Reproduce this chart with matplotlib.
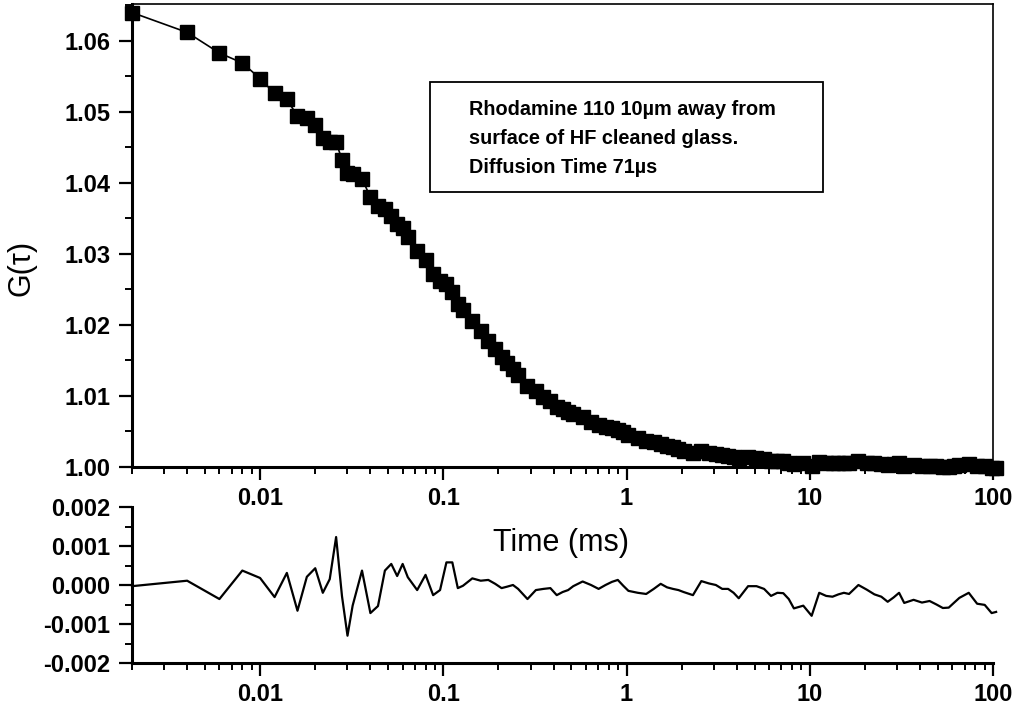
"""
FCS autocorrelation of Rhodamine 110 with fit residuals.
Top panel: G(tau) data on a log time axis; bottom panel: residuals.
Output: out.png
"""

import matplotlib
matplotlib.use("Agg")
import matplotlib.pyplot as plt
from matplotlib.patches import Rectangle
from matplotlib.ticker import FixedLocator, LogLocator, NullFormatter, MultipleLocator

plt.rcParams["font.family"] = ["Liberation Sans", "DejaVu Sans"]

# ── DATA ──────────────────────────────────────────────────────
# lag times in ms (multi-tau correlator channels)
times = [
    0.002, 0.004, 0.006, 0.008, 0.010, 0.012, 0.014, 0.016,
    0.018, 0.020, 0.022, 0.024, 0.026, 0.028, 0.030, 0.032,
    0.036, 0.040, 0.044, 0.048, 0.052, 0.056, 0.060, 0.064,
    0.072, 0.080, 0.088, 0.096, 0.104, 0.112, 0.120, 0.128,
    0.144, 0.160, 0.176, 0.192, 0.208, 0.224, 0.240, 0.256,
    0.288, 0.320, 0.352, 0.384, 0.416, 0.448, 0.480, 0.512,
    0.576, 0.640, 0.704, 0.768, 0.832, 0.896, 0.960, 1.024,
    1.152, 1.280, 1.408, 1.536, 1.664, 1.792, 1.920, 2.048,
    2.304, 2.560, 2.816, 3.072, 3.328, 3.584, 3.840, 4.096,
    4.608, 5.120, 5.632, 6.144, 6.656, 7.168, 7.680, 8.192,
    9.216, 10.24, 11.26, 12.29, 13.31, 14.34, 15.36, 16.38,
    18.43, 20.48, 22.53, 24.58, 26.62, 28.67, 30.72, 32.77,
    36.86, 40.96, 45.06, 49.15, 53.25, 57.34, 61.44, 65.54,
    73.73, 81.92, 90.11, 98.30, 104.0,
]

# measured autocorrelation G(tau)
g_tau = [
    1.0640, 1.0612, 1.0583, 1.0569, 1.0547, 1.0526, 1.0518, 1.0494,
    1.0491, 1.0482, 1.0464, 1.0457, 1.0457, 1.0433, 1.0414, 1.0413,
    1.0406, 1.0380, 1.0368, 1.0364, 1.0354, 1.0342, 1.0336, 1.0324,
    1.0304, 1.0292, 1.0272, 1.0262, 1.0257, 1.0246, 1.0229, 1.0221,
    1.0206, 1.0191, 1.0178, 1.0166, 1.0155, 1.0147, 1.0138, 1.0129,
    1.0114, 1.0107, 1.0099, 1.0093, 1.0085, 1.0081, 1.0078, 1.0075,
    1.0070, 1.0064, 1.0059, 1.0057, 1.0055, 1.0052, 1.0049, 1.0045,
    1.0041, 1.0037, 1.0035, 1.0033, 1.0030, 1.0028, 1.0026, 1.0023,
    1.0020, 1.0022, 1.0020, 1.0019, 1.0017, 1.0016, 1.0014, 1.0012,
    1.0014, 1.0013, 1.0011, 1.0009, 1.0009, 1.0009, 1.0006, 1.0004,
    1.0005, 1.0001, 1.0007, 1.0006, 1.0005, 1.0006, 1.0006, 1.0006,
    1.0008, 1.0006, 1.0005, 1.0004, 1.0003, 1.0004, 1.0005, 1.0002,
    1.0003, 1.0002, 1.0002, 1.0001, 1.0000, 1.0000, 1.0002, 1.0003,
    1.0004, 1.0001, 1.0001, 0.9999, 0.9999,
]

# fit residuals
residuals = [
    -0.00003, 0.00011, -0.00036, 0.00037, 0.00018, -0.00031, 0.00031, -0.00066,
    0.00021, 0.00043, -0.00020, 0.00015, 0.00123, -0.00029, -0.00130, -0.00053,
    0.00037, -0.00072, -0.00054, 0.00037, 0.00054, 0.00023, 0.00054, 0.00020,
    -0.00013, 0.00026, -0.00026, -0.00013, 0.00058, 0.00058, -0.00008, -0.00002,
    0.00017, 0.00011, 0.00013, 0.00003, -0.00008, -0.00004, 0.00000, -0.00010,
    -0.00036, -0.00013, -0.00010, -0.00008, -0.00026, -0.00018, -0.00013, -0.00003,
    0.00009, 0.00000, -0.00010, 0.00000, 0.00008, 0.00013, -0.00002, -0.00015,
    -0.00020, -0.00023, -0.00010, 0.00003, -0.00006, -0.00010, -0.00013, -0.00018,
    -0.00026, 0.00010, 0.00004, 0.00000, -0.00010, -0.00010, -0.00020, -0.00034,
    -0.00003, -0.00003, -0.00010, -0.00028, -0.00020, -0.00021, -0.00036, -0.00060,
    -0.00053, -0.00079, -0.00020, -0.00028, -0.00030, -0.00024, -0.00020, -0.00023,
    0.00000, -0.00012, -0.00024, -0.00030, -0.00043, -0.00032, -0.00020, -0.00046,
    -0.00038, -0.00045, -0.00041, -0.00050, -0.00059, -0.00058, -0.00045, -0.00033,
    -0.00020, -0.00048, -0.00051, -0.00072, -0.00069,
]

x_ticks = [0.01, 0.1, 1, 10, 100]
x_tick_labels = ["0.01", "0.1", "1", "10", "100"]
g_ticks = [1.00, 1.01, 1.02, 1.03, 1.04, 1.05, 1.06]
g_tick_labels = ["1.00", "1.01", "1.02", "1.03", "1.04", "1.05", "1.06"]
r_ticks = [-0.002, -0.001, 0.0, 0.001, 0.002]
r_tick_labels = ["-0.002", "-0.001", "0.000", "0.001", "0.002"]

legend_lines = [
    "Rhodamine 110 10µm away from",
    "surface of HF cleaned glass.",
    "Diffusion Time 71µs",
]

W, H = 1016, 710
TICK_FONT = dict(fontsize=17, fontweight="bold")


def style_x(ax):
    ax.set_xscale("log")
    ax.set_xlim(0.002, 100)
    ax.xaxis.set_major_locator(FixedLocator(x_ticks))
    ax.set_xticklabels(x_tick_labels, **TICK_FONT)
    ax.xaxis.set_minor_locator(LogLocator(base=10, subs=range(2, 10)))
    ax.xaxis.set_minor_formatter(NullFormatter())


def style_ticks(ax):
    ax.tick_params(which="major", direction="out", length=9.5, width=1.6, pad=5)
    ax.tick_params(which="minor", direction="out", length=5, width=1.4)
    ax.tick_params(axis="y", which="major", pad=6)


def main():
    fig = plt.figure(figsize=(W / 100, H / 100), dpi=100)

    # pixel box -> figure fraction
    def box(x0, y0, x1, y1):
        return [x0 / W, 1 - y1 / H, (x1 - x0) / W, (y1 - y0) / H]

    ax = fig.add_axes(box(132, 4, 993, 467))
    ax_r = fig.add_axes(box(132, 507, 993, 663))

    # ── top panel: G(tau)
    ax.plot(times, g_tau, color="black", linewidth=1.2, marker="s",
            markersize=9.5, markerfacecolor="black", markeredgecolor="black",
            clip_on=False, zorder=3)
    style_x(ax)
    ax.set_ylim(1.0, 1.0652)
    ax.yaxis.set_major_locator(FixedLocator(g_ticks))
    ax.set_yticklabels(g_tick_labels, **TICK_FONT)
    ax.yaxis.set_minor_locator(MultipleLocator(0.005))
    style_ticks(ax)
    for side in ("left", "bottom"):
        ax.spines[side].set_linewidth(2.2)
    for side in ("top", "right"):
        ax.spines[side].set_linewidth(1.2)

    # ── bottom panel: residuals
    ax_r.plot(times, residuals, color="black", linewidth=1.6, clip_on=False)
    style_x(ax_r)
    ax_r.set_ylim(-0.002, 0.002)
    ax_r.yaxis.set_major_locator(FixedLocator(r_ticks))
    ax_r.set_yticklabels(r_tick_labels, **TICK_FONT)
    ax_r.yaxis.set_minor_locator(MultipleLocator(0.0005))
    style_ticks(ax_r)
    ax_r.spines["top"].set_visible(False)
    ax_r.spines["right"].set_visible(False)
    for side in ("left", "bottom"):
        ax_r.spines[side].set_linewidth(2.2)

    # axis titles
    fig.text(561 / W, 1 - 543 / H, "Time (ms)", fontsize=22,
             ha="center", va="center")
    fig.text(22 / W, 1 - 268 / H, "G(τ)", fontsize=22, rotation=90,
             ha="center", va="center")

    # annotation box
    x0, y0, x1, y1 = 430 / W, 1 - 192 / H, 823 / W, 1 - 82 / H
    fig.patches.append(Rectangle((x0, y0), x1 - x0, y1 - y0,
                                 transform=fig.transFigure, fill=False,
                                 edgecolor="black", linewidth=1.3))
    for i, line in enumerate(legend_lines):
        fig.text(469 / W, 1 - (115 + 29 * i) / H, line, fontsize=14.3,
                 fontweight="bold", ha="left", va="baseline")

    fig.savefig("out.png", dpi=100)


if __name__ == "__main__":
    main()
